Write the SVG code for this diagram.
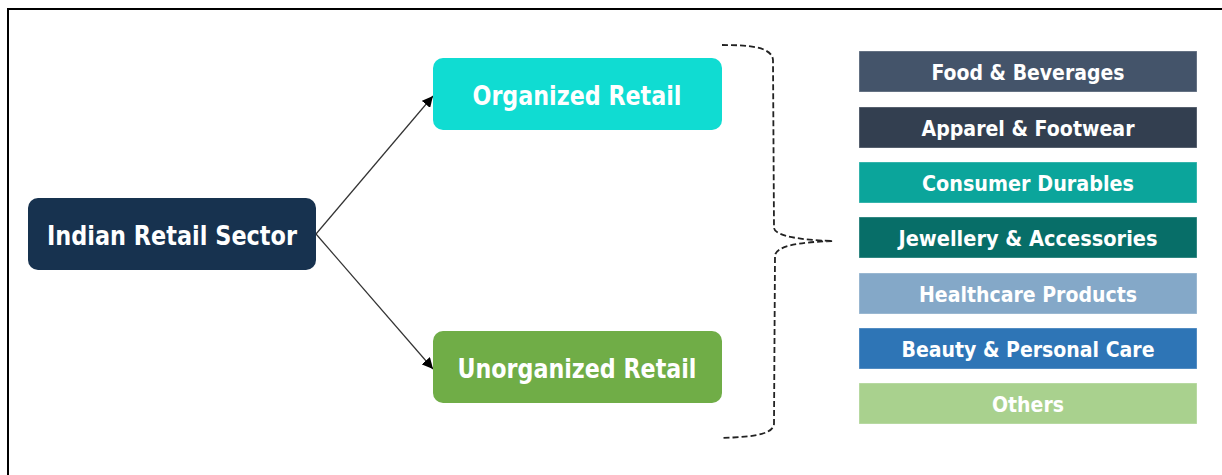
<svg xmlns="http://www.w3.org/2000/svg" width="1222" height="475" viewBox="0 0 1222 475">
<style>
.t{font-family:"DejaVu Sans","Liberation Sans",sans-serif;font-weight:bold;fill:#ffffff;text-anchor:middle}
.big{font-size:26px}
.sm{font-size:21px}
.cat{stroke:#ffffff;stroke-opacity:0.35;stroke-width:1}
.conn{stroke:#333333;stroke-width:1.2;fill:none}
.brace{stroke:#222222;stroke-width:1.8;fill:none;stroke-dasharray:6,3}
</style>
<defs>
<marker id="ah" viewBox="0 0 10 10" refX="10" refY="5" markerWidth="11" markerHeight="11" markerUnits="userSpaceOnUse" orient="auto">
<path d="M0,0 L10,5 L0,10 z" fill="#000000"/>
</marker>
</defs>
<rect x="0" y="0" width="1222" height="475" fill="#ffffff"/>
<rect x="8" y="9" width="1300" height="500" fill="none" stroke="#000000" stroke-width="2"/>
<g id="connectors">
<line class="conn" x1="316" y1="234" x2="433" y2="96" marker-end="url(#ah)"/>
<line class="conn" x1="316" y1="234" x2="433" y2="369" marker-end="url(#ah)"/>
<path class="brace" d="M722,45 C745,45 772,46 773,60 L774,228 C775,236 800,240 833,241 C800,242 775,246 775,256 L774,424 C773,436 745,437 722,438"/>
</g>
<g id="indian-retail-sector">
<rect x="28" y="198" width="288" height="72" rx="10" fill="#17324f"/>
<text class="t big" x="172" y="245" textLength="250" lengthAdjust="spacingAndGlyphs">Indian Retail Sector</text>
</g>
<g id="organized-retail">
<rect x="433" y="58" width="289" height="72" rx="10" fill="#10dcd2"/>
<text class="t big" x="577" y="105" textLength="209" lengthAdjust="spacingAndGlyphs">Organized Retail</text>
</g>
<g id="unorganized-retail">
<rect x="433" y="331" width="289" height="72" rx="10" fill="#70ad47"/>
<text class="t big" x="577" y="378" textLength="239" lengthAdjust="spacingAndGlyphs">Unorganized Retail</text>
</g>
<g id="food-beverages">
<rect class="cat" x="859" y="51" width="338" height="41" fill="#44546a"/>
<text class="t sm" x="1028" y="80" textLength="193" lengthAdjust="spacingAndGlyphs">Food &amp; Beverages</text>
</g>
<g id="apparel-footwear">
<rect class="cat" x="859" y="107" width="338" height="41" fill="#333f50"/>
<text class="t sm" x="1028" y="136" textLength="213" lengthAdjust="spacingAndGlyphs">Apparel &amp; Footwear</text>
</g>
<g id="consumer-durables">
<rect class="cat" x="859" y="162" width="338" height="41" fill="#0ba59b"/>
<text class="t sm" x="1028" y="191" textLength="212" lengthAdjust="spacingAndGlyphs">Consumer Durables</text>
</g>
<g id="jewellery-accessories">
<rect class="cat" x="859" y="217" width="338" height="41" fill="#076e68"/>
<text class="t sm" x="1028" y="246" textLength="259" lengthAdjust="spacingAndGlyphs">Jewellery &amp; Accessories</text>
</g>
<g id="healthcare-products">
<rect class="cat" x="859" y="273" width="338" height="41" fill="#84a8c8"/>
<text class="t sm" x="1028" y="302" textLength="218" lengthAdjust="spacingAndGlyphs">Healthcare Products</text>
</g>
<g id="beauty-personal-care">
<rect class="cat" x="859" y="328" width="338" height="41" fill="#2e75b6"/>
<text class="t sm" x="1028" y="357" textLength="253" lengthAdjust="spacingAndGlyphs">Beauty &amp; Personal Care</text>
</g>
<g id="others">
<rect class="cat" x="859" y="383" width="338" height="41" fill="#a9d18e"/>
<text class="t sm" x="1028" y="412" textLength="72" lengthAdjust="spacingAndGlyphs">Others</text>
</g>
</svg>
